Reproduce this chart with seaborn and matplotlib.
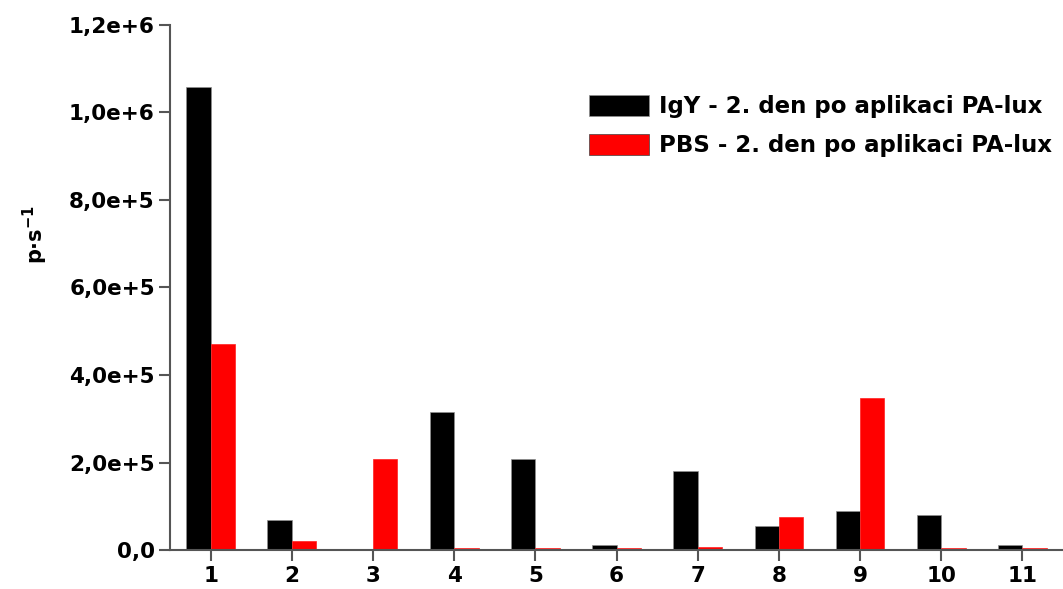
import pandas as pd
import matplotlib
matplotlib.use('Agg')
import matplotlib.pyplot as plt
import seaborn as sns
from matplotlib.ticker import FuncFormatter

categories = ['1', '2', '3', '4', '5', '6', '7', '8', '9', '10', '11']
igy = [1058000, 68600, 0, 315000, 208000, 11000, 180000, 55000, 89000, 80000, 11000]
pbs = [471000, 20500, 208000, 4000, 4000, 4000, 8000, 75000, 347000, 4000, 4000]
series = ['IgY - 2. den po aplikaci PA-lux', 'PBS - 2. den po aplikaci PA-lux']
yticks = [0, 2e5, 4e5, 6e5, 8e5, 1e6, 1.2e6]


def fmt(v, pos):
    if v == 0:
        return '0,0'
    s = '%.1e' % v
    mant, exp = s.split('e')
    return '%se+%d' % (mant.replace('.', ','), int(exp))


def main():
    df = pd.DataFrame({
        'cat': categories * 2,
        'val': igy + pbs,
        'grp': [series[0]] * len(igy) + [series[1]] * len(pbs),
    })
    sns.set_style('ticks')
    plt.rcParams['font.family'] = ['DejaVu Sans']
    plt.rcParams['font.weight'] = 'bold'
    plt.rcParams['text.color'] = 'black'
    plt.rcParams['xtick.color'] = 'black'
    plt.rcParams['ytick.color'] = 'black'
    plt.rcParams['axes.labelcolor'] = 'black'

    fig = plt.figure(figsize=(10.63, 5.89), dpi=100)
    ax = fig.add_axes([0.16, 0.066, 0.84, 0.892])
    sns.barplot(data=df, x='cat', y='val', hue='grp', order=categories,
                palette=['#000000', '#ff0000'], width=0.6, ax=ax,
                edgecolor='#909090', linewidth=0.5, saturation=1, errorbar=None)
    # red bars: keep the outline red so the tiny ones still read as red
    for bar in ax.containers[1]:
        bar.set_edgecolor('#ff2020')

    ax.set_xlim(-0.5, 10.5)
    ax.set_ylim(0, 1.2e6)
    ax.set_yticks(yticks)
    ax.yaxis.set_major_formatter(FuncFormatter(fmt))
    ax.set_xlabel('')
    ax.set_ylabel('p$\\cdot$s$^{\\mathbf{-1}}$', fontsize=15, fontweight='bold')
    ax.yaxis.set_label_coords(-0.135, 0.6)
    ax.tick_params(axis='both', labelsize=15.5, color='#555555', length=8, width=1.5,
                   labelcolor='black')
    ax.tick_params(axis='y', pad=3)
    for lab in ax.get_xticklabels() + ax.get_yticklabels():
        lab.set_fontweight('bold')
    for sp in ['left', 'bottom']:
        ax.spines[sp].set_color('#555555')
        ax.spines[sp].set_linewidth(1.5)
    sns.despine(ax=ax, top=True, right=True)

    leg = ax.legend(loc='upper right', bbox_to_anchor=(0.988, 0.866), frameon=False,
                    handlelength=2.6, handleheight=1.0, prop={'size': 16.5, 'weight': 'bold'},
                    borderaxespad=0.0, borderpad=0.0, labelspacing=0.7, handletextpad=0.45)
    leg.legend_handles[0].set_edgecolor('#909090')
    leg.legend_handles[1].set_edgecolor('#404040')
    fig.savefig('out.png', dpi=100)
    print('I created a figure!')


if __name__ == '__main__':
    main()
